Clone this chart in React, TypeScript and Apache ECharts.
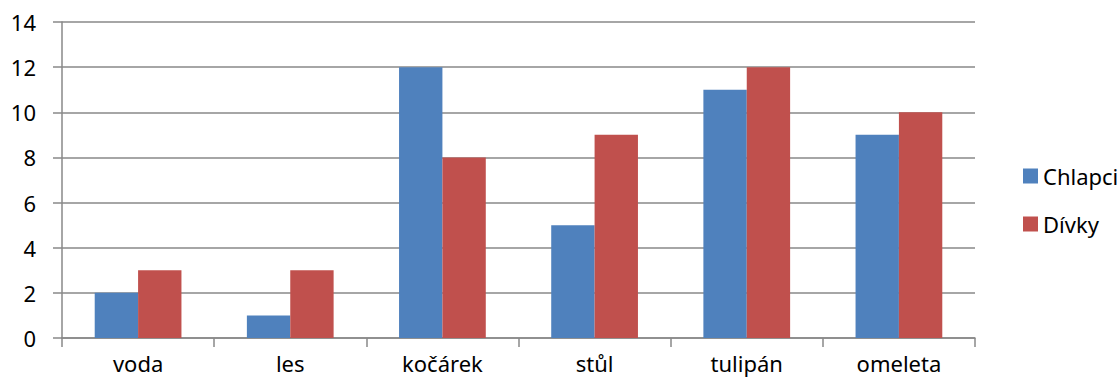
import React, { useEffect, useRef } from "react";
import * as echarts from "echarts";

const categories = ["voda", "les", "kočárek", "stůl", "tulipán", "omeleta"];
const chlapci = [2, 1, 12, 5, 11, 9];
const divky = [3, 3, 8, 9, 12, 10];
const seriesNames = ["Chlapci", "Dívky"];

export default function App() {
  const ref = useRef<HTMLDivElement>(null);
  useEffect(() => {
    const chart = echarts.init(ref.current!, null, { renderer: "svg" });
    const font = "'Noto Sans', 'Open Sans', sans-serif";
    chart.setOption({
      animation: false,
      textStyle: { fontFamily: font },
      grid: { left: 62, right: 145, top: 22, bottom: 44, containLabel: false },
      legend: {
        orient: "vertical",
        left: 1018,
        top: 160,
        itemWidth: 15,
        itemHeight: 15,
        itemGap: 26,
        icon: "rect",
        textStyle: { fontSize: 22, color: "#000", fontFamily: font },
        data: seriesNames,
      },
      xAxis: {
        type: "category",
        data: categories,
        axisLine: { show: true, lineStyle: { color: "#888", width: 1.5 } },
        axisTick: { show: true, length: 9, lineStyle: { color: "#888", width: 1.5 } },
        axisLabel: { fontSize: 22, color: "#000", margin: 14, fontFamily: font },
      },
      yAxis: {
        type: "value",
        min: 0,
        max: 14,
        interval: 2,
        axisLine: { show: true, lineStyle: { color: "#888", width: 1.5 } },
        axisTick: { show: true, length: 9, lineStyle: { color: "#888", width: 1.5 } },
        axisLabel: { fontSize: 22, color: "#000", margin: 26, fontFamily: font },
        splitLine: { show: true, lineStyle: { color: "#888", width: 1.5 } },
      },
      series: [
        {
          name: seriesNames[0],
          type: "bar",
          data: chlapci,
          itemStyle: { color: "#4F81BD" },
          barGap: "0%",
          barCategoryGap: "43%",
        },
        {
          name: seriesNames[1],
          type: "bar",
          data: divky,
          itemStyle: { color: "#C0504D" },
          barGap: "0%",
          barCategoryGap: "43%",
        },
      ],
    });
    return () => chart.dispose();
  }, []);
  return <div ref={ref} style={{ width: 1120, height: 382, position: "absolute", left: 0, top: 0 }} />;
}
